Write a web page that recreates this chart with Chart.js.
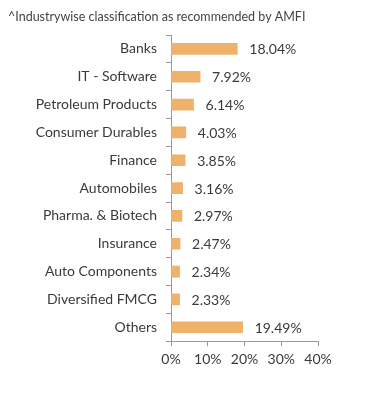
<!DOCTYPE html>
<html><head><meta charset="utf-8">
<script src="https://cdn.jsdelivr.net/npm/chart.js@4/dist/chart.umd.min.js"></script>
<style>html,body{margin:0;padding:0;background:#fff;}#wrap{width:391px;height:395px;}</style>
</head><body><div id="wrap"><canvas id="c" width="391" height="395"></canvas></div>
<script>
const titleText = "^Industrywise classification as recommended by AMFI";
const categories = ["Banks","IT - Software","Petroleum Products","Consumer Durables","Finance","Automobiles","Pharma. & Biotech","Insurance","Auto Components","Diversified FMCG","Others"];
const weights = [18.04,7.92,6.14,4.03,3.85,3.16,2.97,2.47,2.34,2.33,19.49];
const xTicks = [0,10,20,30,40];

const FONT = "Lato, 'Open Sans', sans-serif";
const valueLabels = {
  id:'valueLabels',
  afterDatasetsDraw(chart){
    const ctx = chart.ctx;
    const meta = chart.getDatasetMeta(0);
    ctx.save();
    ctx.font = "14px " + FONT;
    ctx.fillStyle = "#3a3a3a";
    ctx.textBaseline = "middle";
    ctx.textAlign = "left";
    meta.data.forEach((bar,i)=>{
      ctx.fillText(weights[i].toFixed(2)+"%", bar.x + 12, bar.y + 1);
    });
    ctx.restore();
  }
};

new Chart(document.getElementById('c'),{
  type:'bar',
  data:{labels:categories,datasets:[{data:weights,backgroundColor:'#F0B26B',barThickness:11,borderWidth:0}]},
  options:{
    indexAxis:'y',
    responsive:false,
    animation:false,
    layout:{padding:{left:8,right:73,top:0,bottom:22}},
    plugins:{
      legend:{display:false},
      tooltip:{enabled:false},
      title:{display:true,text:titleText,align:'start',color:'#444',font:{family:FONT,size:12.5,weight:'normal'},padding:{top:9,bottom:11}}
    },
    scales:{
      x:{
        min:0,max:40,
        afterBuildTicks(s){ s.ticks = xTicks.map(v=>({value:v})); },
        ticks:{callback:v=>v+'%',color:'#3a3a3a',font:{family:FONT,size:14},padding:5,maxRotation:0},
        grid:{drawOnChartArea:false,drawTicks:true,tickLength:5,color:'#999'},
        border:{color:'#999'}
      },
      y:{
        afterFit(s){ s.width = 163; },
        ticks:{color:'#3a3a3a',font:{family:FONT,size:14},padding:9},
        grid:{drawOnChartArea:false,drawTicks:true,tickLength:5,color:'#999',offset:true},
        border:{color:'#999'}
      }
    }
  },
  plugins:[valueLabels]
});
</script></body></html>
